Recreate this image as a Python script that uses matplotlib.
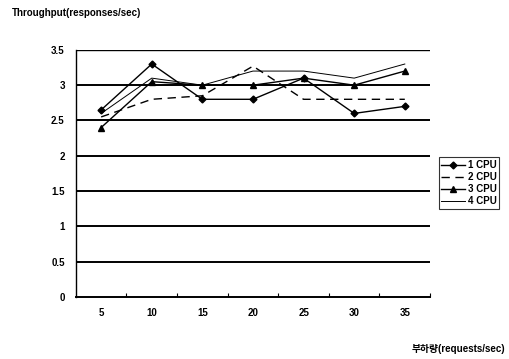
import matplotlib
matplotlib.use("Agg")
import matplotlib.pyplot as plt

plt.rcParams['font.family'] = ['Liberation Sans', 'Noto Sans CJK KR']
plt.rcParams['font.weight'] = 'bold'

load = [5, 10, 15, 20, 25, 30, 35]
cpu1 = [2.65, 3.3, 2.8, 2.8, 3.1, 2.6, 2.7]
cpu2 = [2.55, 2.8, 2.85, 3.27, 2.8, 2.8, 2.8]
cpu3 = [2.4, 3.05, 3.0, 3.0, 3.1, 3.0, 3.2]
cpu4 = [2.6, 3.1, 3.0, 3.2, 3.2, 3.1, 3.3]
yticks = [0, 0.5, 1, 1.5, 2, 2.5, 3, 3.5]

fig = plt.figure(figsize=(5.09, 3.59), dpi=100)
ax = fig.add_axes([0.149, 0.173, 0.696, 0.688])

# horizontal grid
for y in yticks[1:]:
    ax.axhline(y, color='black', lw=1.4 if y < 3.5 else 1.0, zorder=1)

ax.plot(load, cpu1, color='black', lw=1.0, marker='D', ms=3.5, label='1 CPU', zorder=3)
ax.plot(load, cpu2, color='black', lw=1.0, ls=(0, (6, 4)), label='2 CPU', zorder=3)
ax.plot(load, cpu3, color='black', lw=1.0, marker='^', ms=4, label='3 CPU', zorder=3)
ax.plot(load, cpu4, color='black', lw=0.7, label='4 CPU', zorder=3)

ax.set_xlim(2.5, 37.5)
ax.set_ylim(0, 3.5)
ax.set_xticks(load)
ax.set_xticklabels([str(v) for v in load], fontsize=7, fontweight='bold')
ax.set_xticks([7.5 + 5 * i for i in range(7)], minor=True)
ax.tick_params(axis='x', which='major', length=0, pad=8)
ax.tick_params(axis='x', which='minor', direction='in', length=3, width=0.8)
ax.set_yticks(yticks)
ax.set_yticklabels(['0', '0.5', '1', '1.5', '2', '2.5', '3', '3.5'], fontsize=7, fontweight='bold')
ax.tick_params(axis='y', length=0, pad=8)

for s in ['top', 'right']:
    ax.spines[s].set_visible(False)
ax.spines['left'].set_linewidth(1.0)
ax.spines['bottom'].set_linewidth(1.4)

leg = ax.legend(loc='center left', bbox_to_anchor=(1.01, 0.46), fontsize=7,
                frameon=True, fancybox=False, edgecolor='black', handlelength=2.4,
                handletextpad=0.3, borderpad=0.3, labelspacing=0.2)
leg.get_frame().set_linewidth(0.8)

fig.text(0.024, 0.963, 'Throughput(responses/sec)', fontsize=7, fontweight='bold',
         va='center', ha='left')
fig.text(0.992, 0.028, '부하량(requests/sec)', fontsize=7, fontweight='bold',
         va='center', ha='right')

fig.savefig('out.png', dpi=100)
